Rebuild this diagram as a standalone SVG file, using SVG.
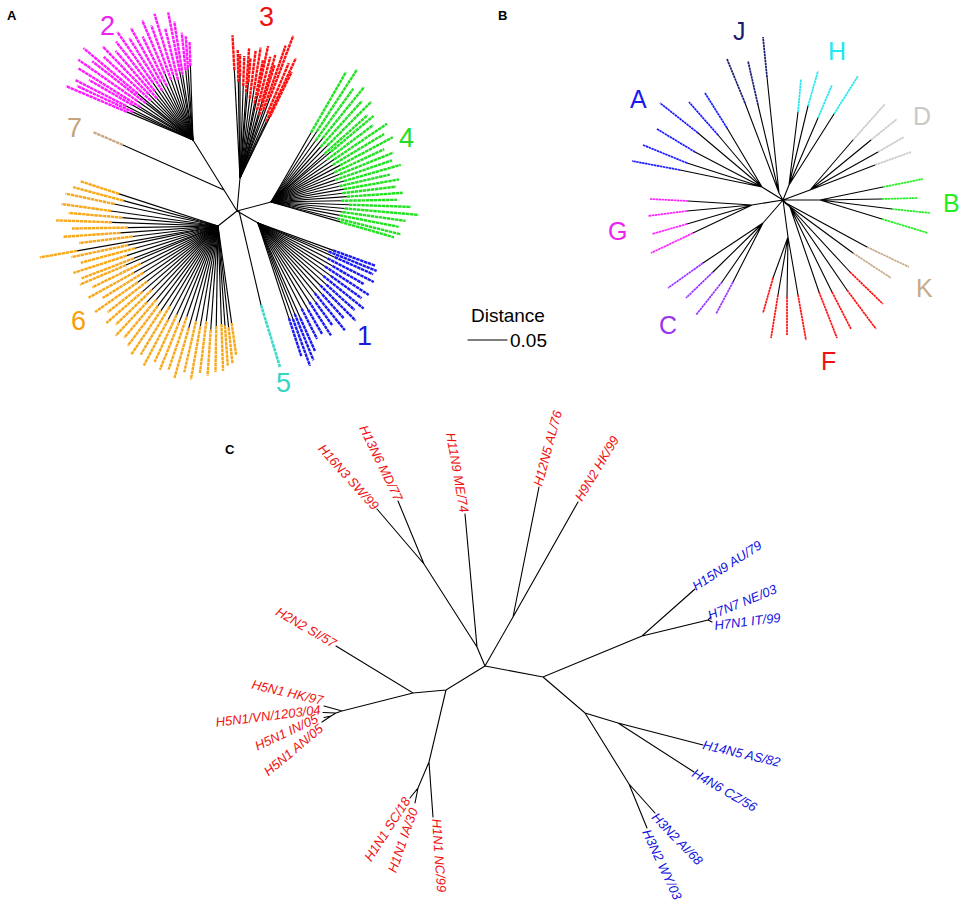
<svg xmlns="http://www.w3.org/2000/svg" width="964" height="906" viewBox="0 0 964 906">
<style>
.bg{fill:#fff}
.k{stroke:#000;stroke-width:1.1;fill:none;stroke-linecap:round}
.cl path{stroke:#000;stroke-width:1.15;fill:none}
.cl path+path{stroke-width:2.4;stroke-dasharray:3.5 0.6}
.m path+path{stroke:#ff1aff}.r path+path{stroke:#ff1010}.g path+path{stroke:#22e022}
.b path+path{stroke:#1a1af0}.o path+path{stroke:#f7a81b}
.tb{fill:none;stroke-width:1.7;stroke-dasharray:2.5 0.5}
.pl{font-family:"Liberation Sans",Arial,sans-serif;font-weight:bold;font-size:13px;fill:#000}
.big{font-family:"Liberation Sans",Arial,sans-serif;font-size:27px}
.bl{font-family:"Liberation Sans",Arial,sans-serif;font-size:25px}
.lab{font-family:"Liberation Sans",Arial,sans-serif;font-style:italic;font-size:13px}
.red{fill:#ee1111}.blu{fill:#1111dd}
</style>
<rect class="bg" width="964" height="906"/>

<!-- Panel A -->
<g id="panelA">
<text class="pl" x="7" y="20">A</text>
<g id="A-connectors">
<path class="k" d="M237 211L240 178M237 211L224 190L193 140M224 190L123 145M237 211L271 202M237 211L258 223M237 211L218 226M239 211L261 305"/>
<path d="M123 145L93 132" stroke="#c8a882" stroke-width="2.3" stroke-dasharray="3.5 0.6"/>
<path d="M261 305L280 367" stroke="#40d8c8" stroke-width="2.6" stroke-dasharray="3.5 0.6"/>
</g>
<g id="clade3" class="cl r" transform="translate(240,178)">
<g transform="rotate(-93)"><path d="M0 0H108"/><path d="M108 0H143"/></g>
<g transform="rotate(-91)"><path d="M0 0H96"/><path d="M96 0H128"/></g>
<g transform="rotate(-90)"><path d="M0 0H102"/><path d="M102 0H124"/></g>
<g transform="rotate(-88)"><path d="M0 0H92"/><path d="M92 0H122"/></g>
<g transform="rotate(-86)"><path d="M0 0H86"/><path d="M86 0H130"/></g>
<g transform="rotate(-85)"><path d="M0 0H96"/><path d="M96 0H120"/></g>
<g transform="rotate(-83)"><path d="M0 0H80"/><path d="M80 0H128"/></g>
<g transform="rotate(-81)"><path d="M0 0H90"/><path d="M90 0H132"/></g>
<g transform="rotate(-79)"><path d="M0 0H76"/><path d="M76 0H120"/></g>
<g transform="rotate(-78)"><path d="M0 0H84"/><path d="M84 0H135"/></g>
<g transform="rotate(-76)"><path d="M0 0H70"/><path d="M70 0H125"/></g>
<g transform="rotate(-74)"><path d="M0 0H80"/><path d="M80 0H128"/></g>
<g transform="rotate(-73)"><path d="M0 0H66"/><path d="M66 0H118"/></g>
<g transform="rotate(-71)"><path d="M0 0H72"/><path d="M72 0H140"/></g>
<g transform="rotate(-69.5)"><path d="M0 0H86"/><path d="M86 0H152"/></g>
<g transform="rotate(-67)"><path d="M0 0H70"/><path d="M70 0H125"/></g>
<g transform="rotate(-65)"><path d="M0 0H62"/><path d="M62 0H132"/></g>
<g transform="rotate(-64)"><path d="M0 0H68"/><path d="M68 0H118"/></g>
</g>
<g id="clade2" class="cl m" transform="translate(193,140)">
<g transform="rotate(-157)"><path d="M0 0H72"/><path d="M72 0H138"/></g>
<g transform="rotate(-155)"><path d="M0 0H66"/><path d="M66 0H128"/></g>
<g transform="rotate(-153)"><path d="M0 0H75"/><path d="M75 0H132"/></g>
<g transform="rotate(-150)"><path d="M0 0H70"/><path d="M70 0H120"/></g>
<g transform="rotate(-148)"><path d="M0 0H62"/><path d="M62 0H135"/></g>
<g transform="rotate(-145)"><path d="M0 0H68"/><path d="M68 0H140"/></g>
<g transform="rotate(-142)"><path d="M0 0H60"/><path d="M60 0H128"/></g>
<g transform="rotate(-140)"><path d="M0 0H72"/><path d="M72 0H143"/></g>
<g transform="rotate(-137)"><path d="M0 0H58"/><path d="M58 0H122"/></g>
<g transform="rotate(-134)"><path d="M0 0H64"/><path d="M64 0H130"/></g>
<g transform="rotate(-131)"><path d="M0 0H55"/><path d="M55 0H118"/></g>
<g transform="rotate(-128)"><path d="M0 0H62"/><path d="M62 0H125"/></g>
<g transform="rotate(-125)"><path d="M0 0H70"/><path d="M70 0H132"/></g>
<g transform="rotate(-122)"><path d="M0 0H58"/><path d="M58 0H120"/></g>
<g transform="rotate(-119)"><path d="M0 0H66"/><path d="M66 0H128"/></g>
<g transform="rotate(-116)"><path d="M0 0H60"/><path d="M60 0H115"/></g>
<g transform="rotate(-113)"><path d="M0 0H72"/><path d="M72 0H130"/></g>
<g transform="rotate(-110)"><path d="M0 0H64"/><path d="M64 0H122"/></g>
<g transform="rotate(-107)"><path d="M0 0H68"/><path d="M68 0H132"/></g>
<g transform="rotate(-104)"><path d="M0 0H62"/><path d="M62 0H115"/></g>
<g transform="rotate(-101)"><path d="M0 0H70"/><path d="M70 0H130"/></g>
<g transform="rotate(-99)"><path d="M0 0H66"/><path d="M66 0H120"/></g>
<g transform="rotate(-96)"><path d="M0 0H70"/><path d="M70 0H108"/></g>
<g transform="rotate(-94)"><path d="M0 0H72"/><path d="M72 0H104"/></g>
<g transform="rotate(-92)"><path d="M0 0H74"/><path d="M74 0H98"/></g>
</g>
<g id="clade4" class="cl g" transform="translate(271,202)">
<g transform="rotate(-60)"><path d="M0 0H80"/><path d="M80 0H150"/></g>
<g transform="rotate(-57)"><path d="M0 0H84"/><path d="M84 0H158"/></g>
<g transform="rotate(-54)"><path d="M0 0H76"/><path d="M76 0H140"/></g>
<g transform="rotate(-51)"><path d="M0 0H82"/><path d="M82 0H148"/></g>
<g transform="rotate(-48)"><path d="M0 0H74"/><path d="M74 0H136"/></g>
<g transform="rotate(-45)"><path d="M0 0H80"/><path d="M80 0H142"/></g>
<g transform="rotate(-42)"><path d="M0 0H72"/><path d="M72 0H130"/></g>
<g transform="rotate(-40)"><path d="M0 0H78"/><path d="M78 0H134"/></g>
<g transform="rotate(-37)"><path d="M0 0H70"/><path d="M70 0H128"/></g>
<g transform="rotate(-34)"><path d="M0 0H76"/><path d="M76 0H140"/></g>
<g transform="rotate(-31)"><path d="M0 0H72"/><path d="M72 0H132"/></g>
<g transform="rotate(-28)"><path d="M0 0H78"/><path d="M78 0H138"/></g>
<g transform="rotate(-25)"><path d="M0 0H70"/><path d="M70 0H125"/></g>
<g transform="rotate(-22)"><path d="M0 0H74"/><path d="M74 0H132"/></g>
<g transform="rotate(-19)"><path d="M0 0H68"/><path d="M68 0H128"/></g>
<g transform="rotate(-16)"><path d="M0 0H76"/><path d="M76 0H135"/></g>
<g transform="rotate(-13)"><path d="M0 0H70"/><path d="M70 0H122"/></g>
<g transform="rotate(-10)"><path d="M0 0H74"/><path d="M74 0H130"/></g>
<g transform="rotate(-7)"><path d="M0 0H72"/><path d="M72 0H126"/></g>
<g transform="rotate(-4)"><path d="M0 0H76"/><path d="M76 0H132"/></g>
<g transform="rotate(-1)"><path d="M0 0H70"/><path d="M70 0H126"/></g>
<g transform="rotate(2)"><path d="M0 0H78"/><path d="M78 0H140"/></g>
<g transform="rotate(5)"><path d="M0 0H74"/><path d="M74 0H148"/></g>
<g transform="rotate(8)"><path d="M0 0H72"/><path d="M72 0H136"/></g>
<g transform="rotate(11)"><path d="M0 0H70"/><path d="M70 0H130"/></g>
<g transform="rotate(14)"><path d="M0 0H68"/><path d="M68 0H134"/></g>
<g transform="rotate(16)"><path d="M0 0H72"/><path d="M72 0H128"/></g>
</g>
<g id="clade1" class="cl b" transform="translate(258,223)">
<g transform="rotate(20)"><path d="M0 0H80"/><path d="M80 0H125"/></g>
<g transform="rotate(22)"><path d="M0 0H76"/><path d="M76 0H128"/></g>
<g transform="rotate(24)"><path d="M0 0H84"/><path d="M84 0H126"/></g>
<g transform="rotate(27)"><path d="M0 0H78"/><path d="M78 0H130"/></g>
<g transform="rotate(30)"><path d="M0 0H86"/><path d="M86 0H122"/></g>
<g transform="rotate(33)"><path d="M0 0H80"/><path d="M80 0H132"/></g>
<g transform="rotate(36)"><path d="M0 0H90"/><path d="M90 0H128"/></g>
<g transform="rotate(39)"><path d="M0 0H84"/><path d="M84 0H136"/></g>
<g transform="rotate(42)"><path d="M0 0H92"/><path d="M92 0H130"/></g>
<g transform="rotate(45)"><path d="M0 0H88"/><path d="M88 0H138"/></g>
<g transform="rotate(48)"><path d="M0 0H96"/><path d="M96 0H128"/></g>
<g transform="rotate(51)"><path d="M0 0H90"/><path d="M90 0H138"/></g>
<g transform="rotate(54)"><path d="M0 0H98"/><path d="M98 0H126"/></g>
<g transform="rotate(57)"><path d="M0 0H94"/><path d="M94 0H134"/></g>
<g transform="rotate(60)"><path d="M0 0H100"/><path d="M100 0H128"/></g>
<g transform="rotate(63)"><path d="M0 0H96"/><path d="M96 0H130"/></g>
<g transform="rotate(66)"><path d="M0 0H104"/><path d="M104 0H140"/></g>
<g transform="rotate(68)"><path d="M0 0H98"/><path d="M98 0H148"/></g>
<g transform="rotate(70)"><path d="M0 0H102"/><path d="M102 0H152"/></g>
<g transform="rotate(72)"><path d="M0 0H100"/><path d="M100 0H140"/></g>
</g>
<g id="clade6" class="cl o" transform="translate(218,226)">
<g transform="rotate(198)"><path d="M0 0H104"/><path d="M104 0H145"/></g>
<g transform="rotate(195)"><path d="M0 0H98"/><path d="M98 0H150"/></g>
<g transform="rotate(192)"><path d="M0 0H106"/><path d="M106 0H156"/></g>
<g transform="rotate(188)"><path d="M0 0H108"/><path d="M108 0H158"/></g>
<g transform="rotate(185)"><path d="M0 0H96"/><path d="M96 0H150"/></g>
<g transform="rotate(182)"><path d="M0 0H106"/><path d="M106 0H162"/></g>
<g transform="rotate(179)"><path d="M0 0H90"/><path d="M90 0H146"/></g>
<g transform="rotate(176)"><path d="M0 0H98"/><path d="M98 0H155"/></g>
<g transform="rotate(173)"><path d="M0 0H86"/><path d="M86 0H140"/></g>
<g transform="rotate(170)"><path d="M0 0H143"/><path d="M143 0H181"/></g>
<g transform="rotate(168)"><path d="M0 0H92"/><path d="M92 0H150"/></g>
<g transform="rotate(165)"><path d="M0 0H86"/><path d="M86 0H142"/></g>
<g transform="rotate(162)"><path d="M0 0H96"/><path d="M96 0H152"/></g>
<g transform="rotate(159)"><path d="M0 0H90"/><path d="M90 0H146"/></g>
<g transform="rotate(157)"><path d="M0 0H100"/><path d="M100 0H150"/></g>
<g transform="rotate(154)"><path d="M0 0H86"/><path d="M86 0H140"/></g>
<g transform="rotate(151)"><path d="M0 0H96"/><path d="M96 0H148"/></g>
<g transform="rotate(148)"><path d="M0 0H88"/><path d="M88 0H136"/></g>
<g transform="rotate(145)"><path d="M0 0H98"/><path d="M98 0H150"/></g>
<g transform="rotate(142)"><path d="M0 0H90"/><path d="M90 0H140"/></g>
<g transform="rotate(139)"><path d="M0 0H100"/><path d="M100 0H148"/></g>
<g transform="rotate(136)"><path d="M0 0H92"/><path d="M92 0H142"/></g>
<g transform="rotate(133)"><path d="M0 0H104"/><path d="M104 0H150"/></g>
<g transform="rotate(130)"><path d="M0 0H96"/><path d="M96 0H146"/></g>
<g transform="rotate(127)"><path d="M0 0H100"/><path d="M100 0H150"/></g>
<g transform="rotate(124)"><path d="M0 0H102"/><path d="M102 0H155"/></g>
<g transform="rotate(121)"><path d="M0 0H94"/><path d="M94 0H150"/></g>
<g transform="rotate(118)"><path d="M0 0H106"/><path d="M106 0H158"/></g>
<g transform="rotate(115)"><path d="M0 0H98"/><path d="M98 0H150"/></g>
<g transform="rotate(112)"><path d="M0 0H104"/><path d="M104 0H155"/></g>
<g transform="rotate(109)"><path d="M0 0H96"/><path d="M96 0H152"/></g>
<g transform="rotate(106)"><path d="M0 0H106"/><path d="M106 0H158"/></g>
<g transform="rotate(103)"><path d="M0 0H98"/><path d="M98 0H150"/></g>
<g transform="rotate(100)"><path d="M0 0H102"/><path d="M102 0H156"/></g>
<g transform="rotate(97)"><path d="M0 0H96"/><path d="M96 0H148"/></g>
<g transform="rotate(94)"><path d="M0 0H104"/><path d="M104 0H150"/></g>
<g transform="rotate(91)"><path d="M0 0H100"/><path d="M100 0H146"/></g>
<g transform="rotate(88)"><path d="M0 0H98"/><path d="M98 0H145"/></g>
<g transform="rotate(86)"><path d="M0 0H100"/><path d="M100 0H140"/></g>
<g transform="rotate(84)"><path d="M0 0H102"/><path d="M102 0H138"/></g>
<g transform="rotate(82)"><path d="M0 0H98"/><path d="M98 0H130"/></g>
</g>
<g id="A-labels">
<text class="big" x="100" y="35" fill="#ee22ee">2</text>
<text class="big" x="259" y="26" fill="#ee1111">3</text>
<text class="big" x="399" y="147" fill="#22dd22">4</text>
<text class="big" x="67" y="137" fill="#c4a47e">7</text>
<text class="big" x="71" y="330" fill="#f5a00a">6</text>
<text class="big" x="357" y="345" fill="#1a1ae0">1</text>
<text class="big" x="276" y="392" fill="#38d4c4">5</text>
</g>
</g>

<!-- Scale bar -->
<g id="scale">
<text x="471" y="322" font-family="Liberation Sans, Arial, sans-serif" font-size="19">Distance</text>
<path class="k" d="M468 340H507"/>
<text x="510" y="347" font-family="Liberation Sans, Arial, sans-serif" font-size="19">0.05</text>
</g>

<!-- Panel B -->
<g id="panelB">
<text class="pl" x="498" y="20">B</text>
<g id="B-connectors">
<path class="k" d="M783 200L762 187M762 187L698 133M762 187L718 135M762 187L727 128M762 187L695 152M762 187L687 163M762 187L680 170
M783 200L779 193M779 193L745 103M779 193L758 105M779 193L767 77
M783 200L789 185M789 185L798 112M789 185L808 106M789 185L818 118M789 185L834 114
M783 200L810 190M810 190L853 140M810 190L871 140M810 190L878 152M810 190L875 165
M783 200L820 200M820 200L883 187M820 200L882 199M820 200L892 209M820 200L882 219
M784 202L867 247M785 203L853 253
M783 200L788 237M788 237L773 278M788 237L778 295M788 237L787 297M788 237L798 295
M783 200L790 207M790 207L819 292M790 207L832 292M790 207L847 290M790 207L850 272
M783 200L763 223M763 223L703 263M763 223L713 272M763 223L722 282M763 223L733 282
M783 200L752 205M752 205L688 201M752 205L687 211M752 205L687 224M752 205L693 233"/>
</g>
<g id="cladeA"><path class="tb" stroke="#1a1aff" d="M698 133L660 103M718 135L689 102M727 128L705 93M695 152L657 129M687 163L643 145M680 170L632 161"/></g>
<g id="cladeJ"><path class="tb" stroke="#1c1c72" d="M745 103L727 59M758 105L748 61M767 77L763 37"/></g>
<g id="cladeH"><path class="tb" stroke="#22e6f0" d="M798 112L801 79M808 106L818 71M818 118L832 85M834 114L858 76"/></g>
<g id="cladeD"><path class="tb" stroke="#c8c8c8" d="M853 140L885 104M871 140L897 119M878 152L904 137M875 165L911 152"/></g>
<g id="cladeB"><path class="tb" stroke="#22ee22" d="M883 187L923 179M882 199L918 198M892 209L930 213M882 219L928 233"/></g>
<g id="cladeK"><path class="tb" stroke="#c8aa88" d="M867 247L909 267M853 253L891 278"/></g>
<g id="cladeF"><path class="tb" stroke="#ff1010" d="M773 278L763 313M778 295L771 338M787 297L787 335M798 295L806 340M819 292L837 338M832 292L851 329M847 290L876 329M850 272L883 304"/></g>
<g id="cladeC"><path class="tb" stroke="#9933ff" d="M703 263L668 288M713 272L686 298M722 282L696 315M733 282L716 314"/></g>
<g id="cladeG"><path class="tb" stroke="#ff22ff" d="M688 201L650 199M687 211L648 216M687 224L652 234M693 233L651 253"/></g>
<g id="B-labels">
<text class="bl" x="733" y="40" fill="#1c1c6e">J</text>
<text class="bl" x="828" y="60" fill="#22e6f0">H</text>
<text class="bl" x="630" y="108" fill="#1a1aee">A</text>
<text class="bl" x="913" y="125" fill="#c8c8c8">D</text>
<text class="bl" x="943" y="212" fill="#22ee22">B</text>
<text class="bl" x="608" y="240" fill="#ee22ee">G</text>
<text class="bl" x="916" y="297" fill="#c8aa88">K</text>
<text class="bl" x="659" y="334" fill="#9933ee">C</text>
<text class="bl" x="821" y="370" fill="#ee1111">F</text>
</g>
</g>

<!-- Panel C -->
<g id="panelC">
<text class="pl" x="225" y="454">C</text>
<g id="C-connectors">
<path class="k" d="M485 666L477 647L465 514M477 647L424 564L377 509M424 564L398 501
M485 666L513 617L578 502M513 617L539 487
M485 666L446 690L413 693L336 646M413 693L342 711L324 706M342 711L336 713L323 712.5M336 713L331 716L324 717.5M331 716L322 722
M446 690L429 762L433 817M429 762L418 788L410 798M418 788L415 803
M485 666L543 677L642 636L695 589M642 636L708 620L711 617M708 620L712 622
M543 677L585 713L618 723L703 745M618 723L694 772M585 713L629 784L655 813M629 784L647 828"/>
</g>
<g id="leaf-H16N3"><text class="lab red" text-anchor="end" transform="translate(373 511) rotate(48)">H16N3 SW/99</text></g>
<g id="leaf-H13N6"><text class="lab red" text-anchor="end" transform="translate(395 502) rotate(64)">H13N6 MD/77</text></g>
<g id="leaf-H11N9"><text class="lab red" text-anchor="end" transform="translate(460 513) rotate(80)">H11N9 ME/74</text></g>
<g id="leaf-H12N5"><text class="lab red" transform="translate(542 487) rotate(-75)">H12N5 AL/76</text></g>
<g id="leaf-H9N2"><text class="lab red" transform="translate(582 502) rotate(-59)">H9N2 HK/99</text></g>
<g id="leaf-H2N2"><text class="lab red" text-anchor="end" transform="translate(333 648) rotate(30)">H2N2 SI/57</text></g>
<g id="leaf-H5N1HK"><text class="lab red" text-anchor="end" transform="translate(322 705) rotate(13)">H5N1 HK/97</text></g>
<g id="leaf-H5N1VN"><text class="lab red" text-anchor="end" transform="translate(321 714) rotate(-7)">H5N1/VN/1203/04</text></g>
<g id="leaf-H5N1IN"><text class="lab red" text-anchor="end" transform="translate(319 722) rotate(-25)">H5N1 IN/05</text></g>
<g id="leaf-H5N1AN"><text class="lab red" text-anchor="end" transform="translate(324 730) rotate(-40)">H5N1 AN/05</text></g>
<g id="leaf-H1N1SC"><text class="lab red" text-anchor="end" transform="translate(411 801) rotate(-57)">H1N1 SC/18</text></g>
<g id="leaf-H1N1IA"><text class="lab red" text-anchor="end" transform="translate(418 810) rotate(-71)">H1N1 IA/30</text></g>
<g id="leaf-H1N1NC"><text class="lab red" transform="translate(432 819) rotate(86)">H1N1 NC/99</text></g>
<g id="leaf-H15N9"><text class="lab blu" transform="translate(696 591) rotate(-33)">H15N9 AU/79</text></g>
<g id="leaf-H7N7"><text class="lab blu" transform="translate(710 620) rotate(-22)">H7N7 NE/03</text></g>
<g id="leaf-H7N1"><text class="lab blu" transform="translate(715 630) rotate(-7)">H7N1 IT/99</text></g>
<g id="leaf-H14N5"><text class="lab blu" transform="translate(702 749) rotate(13)">H14N5 AS/82</text></g>
<g id="leaf-H4N6"><text class="lab blu" transform="translate(691 776) rotate(30)">H4N6 CZ/56</text></g>
<g id="leaf-H3N2AI"><text class="lab blu" transform="translate(651 818) rotate(46)">H3N2 AI/68</text></g>
<g id="leaf-H3N2WY"><text class="lab blu" transform="translate(642 832) rotate(65)">H3N2 WY/03</text></g>
</g>
</svg>
